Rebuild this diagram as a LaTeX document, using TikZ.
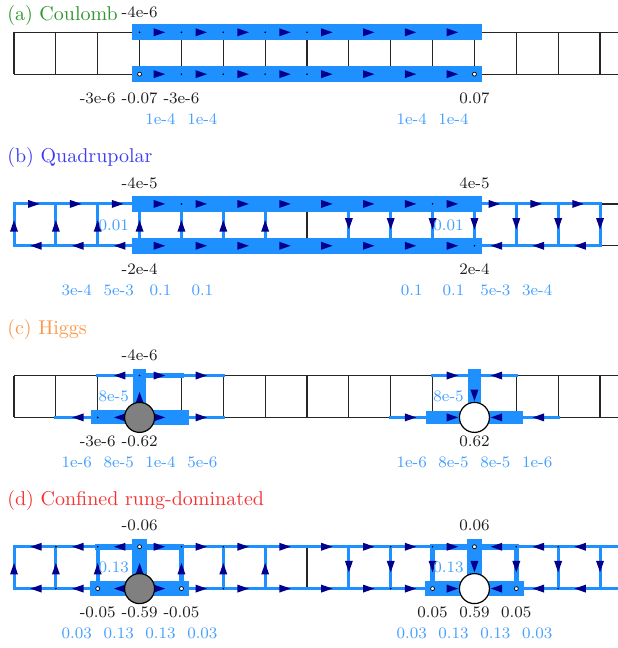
\documentclass[tikz,border=0pt]{standalone}
\usetikzlibrary{calc}
\definecolor{dblue}{RGB}{30,144,255}
\definecolor{navyc}{RGB}{0,0,140}
\definecolor{labb}{RGB}{70,160,255}
\definecolor{labk}{RGB}{30,30,30}
\definecolor{tA}{RGB}{45,150,45}
\definecolor{tB}{RGB}{60,60,245}
\definecolor{tC}{RGB}{255,150,70}
\definecolor{tD}{RGB}{245,50,50}
\newcommand\arw[3]{\pic[rotate=#3] at ($(#1)!.5!(#2)$) {tri};}
\begin{document}
\begin{tikzpicture}[x=20.93pt,y=-20.93pt,
 lat/.style={line width=0.6pt, draw=black!85},
 bl/.style={draw=dblue, line width=1.5pt, line cap=rect},
 md/.style={draw=dblue, line width=2.8pt, line cap=rect},
 bd/.style={draw=dblue, line width=8pt, line cap=rect},
 tri/.pic={\fill[navyc] (2.3pt,0) -- (-3.4pt,2pt) -- (-3.4pt,-2pt) -- cycle;},
 chg/.style={font=\footnotesize, text=labk, inner sep=1pt},
 cur/.style={font=\footnotesize, text=labb, inner sep=1pt},
 ring/.style={circle, draw=black, fill=white, line width=0.35pt, inner sep=0pt, minimum size=2pt},
 tdot/.style={circle, fill=black, inner sep=0pt, minimum size=0.9pt},
 site/.style={circle, draw=black, line width=0.6pt, inner sep=0pt, minimum size=15pt},
 ttl/.style={anchor=west, inner sep=0pt},
]
\useasboundingbox (-0.3345,-0.7716) rectangle (14.429,14.709);
\clip (-0.3345,-0.7716) rectangle (14.429,14.709);

% sites
\foreach \p/\o in {a/0,b/4.1,c/8.2,d/12.29}{
  \foreach \k in {0,...,14}{
    \coordinate (\p\k t) at (\k,\o);
    \coordinate (\p\k b) at (\k,\o+1);
  }
  \coordinate (\p Et) at (14.6,\o);
  \coordinate (\p Eb) at (14.6,\o+1);
}

% black ladders
\foreach \p in {a,b,c,d}{
  \draw[lat] (\p 0t) -- (\p Et);
  \draw[lat] (\p 0b) -- (\p Eb);
  \foreach \k in {0,...,14}{\draw[lat] (\p\k t) -- (\p\k b);}
}

% ---------------- (a) Coulomb
\draw[bd] (a3t) -- (a11t);
\draw[bd] (a3b) -- (a11b);
\foreach \k/\kk in {3/4,4/5,5/6,6/7,7/8,8/9,9/10,10/11}{\arw{a\k t}{a\kk t}{0}\arw{a\k b}{a\kk b}{0}}
\foreach \k in {3,...,7}{\node[tdot] (at\k) at (a\k t) {};}
\foreach \k in {4,...,7}{\node[tdot] (ab\k) at (a\k b) {};}
\node[ring] (ra1) at (a3b) {};
\node[ring] (ra2) at (a11b) {};
\node[ttl, text=tA] (ta) at (-0.17,-0.41) {(a) Coulomb};
\node[chg] (qa1) at (3,-0.48) {-4e-6};
\node[chg] (qa2) at (2,1.57) {-3e-6};
\node[chg] (qa3) at (3,1.57) {-0.07};
\node[chg] (qa4) at (4,1.57) {-3e-6};
\node[chg] (qa5) at (11,1.57) {0.07};
\node[cur] (ja1) at (3.5,2.07) {1e-4};
\node[cur] (ja2) at (4.5,2.07) {1e-4};
\node[cur] (ja3) at (9.5,2.07) {1e-4};
\node[cur] (ja4) at (10.5,2.07) {1e-4};

% ---------------- (b) Quadrupolar
\foreach \k/\kk in {0/1,1/2,2/3,11/12,12/13,13/14}{\draw[bl] (b\k t) -- (b\kk t); \draw[bl] (b\k b) -- (b\kk b);}
\foreach \k in {0,1,2,3,4,5,6,8,9,10,11,12,13,14}{\draw[bl] (b\k t) -- (b\k b);}
\draw[bd] (b3t) -- (b11t);
\draw[bd] (b3b) -- (b11b);
\foreach \k/\kk in {0/1,1/2,2/3}{\arw{b\k t}{b\kk t}{0}\arw{b\k b}{b\kk b}{180}}
\foreach \k/\kk in {3/4,4/5,5/6,6/7,7/8,8/9,9/10,10/11}{\arw{b\k t}{b\kk t}{0}\arw{b\k b}{b\kk b}{0}}
\foreach \k/\kk in {11/12,12/13,13/14}{\arw{b\k t}{b\kk t}{0}\arw{b\k b}{b\kk b}{180}}
\foreach \k in {0,...,6}{\arw{b\k b}{b\k t}{90}}
\foreach \k in {8,...,14}{\arw{b\k t}{b\k b}{-90}}
\node[tdot] (bd1) at (b4t) {};
\node[tdot] (bd2) at (b10t) {};
\node[tdot] (bd3) at (b11b) {};
\node[ttl, text=tB] (tb) at (-0.17,2.99) {(b) Quadrupolar};
\node[chg] (qb1) at (3,3.61) {-4e-5};
\node[chg] (qb2) at (11,3.61) {4e-5};
\node[chg] (qb3) at (3,5.65) {-2e-4};
\node[chg] (qb4) at (11,5.65) {2e-4};
\node[cur, anchor=east] (jb0) at (2.8,4.6) {0.01};
\node[cur, anchor=east] (jb9) at (10.8,4.6) {0.01};
\node[cur] (jb1) at (1.5,6.17) {3e-4};
\node[cur] (jb2) at (2.5,6.17) {5e-3};
\node[cur] (jb3) at (3.5,6.17) {0.1};
\node[cur] (jb4) at (4.5,6.17) {0.1};
\node[cur] (jb5) at (9.5,6.17) {0.1};
\node[cur] (jb6) at (10.5,6.17) {0.1};
\node[cur] (jb7) at (11.5,6.17) {5e-3};
\node[cur] (jb8) at (12.5,6.17) {3e-4};

% ---------------- (c) Higgs
\foreach \k/\kk in {2/3,4/5,10/11,11/12}{\draw[bl] (c\k t) -- (c\kk t);}
\foreach \k/\kk in {1/2,4/5,9/10,12/13}{\draw[bl] (c\k b) -- (c\kk b);}
\draw[md] (c3t) -- (c4t);
\draw[bd, line width=7pt] (c2b) -- (c3b);
\draw[bd, line width=7.5pt] (c3b) -- (c4b);
\draw[bd, line width=6.8pt] (c10b) -- (c12b);
\draw[bd, line width=6.7pt] (c3t) -- (c3b);
\draw[bd, line width=6.4pt] (c11t) -- (c11b);
\arw{c2t}{c3t}{180}\arw{c3t}{c4t}{0}\arw{c4t}{c5t}{0}
\arw{c1b}{c2b}{180}\arw{c2b}{c3b}{180}\arw{c3b}{c4b}{0}\arw{c4b}{c5b}{0}
\arw{c3b}{c3t}{90}
\arw{c10t}{c11t}{0}\arw{c11t}{c12t}{180}
\arw{c9b}{c10b}{0}\arw{c10b}{c11b}{0}\arw{c11b}{c12b}{180}\arw{c12b}{c13b}{180}
\arw{c11t}{c11b}{-90}
\node[tdot] (cd1) at (c3t) {};
\node[tdot] (cd2) at (c2b) {};
\node[site, fill=gray] (hg) at (c3b) {};
\node[site, fill=white] (hw) at (c11b) {};
\node[ttl, text=tC] (tc) at (-0.17,7.11) {(c) Higgs};
\node[chg] (qc1) at (3,7.71) {-4e-6};
\node[cur, anchor=east] (jc0) at (2.8,8.7) {8e-5};
\node[chg] (qc2) at (2,9.77) {-3e-6};
\node[chg] (qc3) at (3,9.77) {-0.62};
\node[cur] (jc1) at (1.5,10.27) {1e-6};
\node[cur] (jc2) at (2.5,10.27) {8e-5};
\node[cur] (jc3) at (3.5,10.27) {1e-4};
\node[cur] (jc4) at (4.5,10.27) {5e-6};
\node[cur, anchor=east] (jc9) at (10.8,8.7) {8e-5};
\node[chg] (qc4) at (11,9.77) {0.62};
\node[cur] (jc5) at (9.5,10.27) {1e-6};
\node[cur] (jc6) at (10.5,10.27) {8e-5};
\node[cur] (jc7) at (11.5,10.27) {8e-5};
\node[cur] (jc8) at (12.5,10.27) {1e-6};

% ---------------- (d) Confined rung-dominated
\draw[bl] (d0t) -- (dEt);
\draw[bl] (d0b) -- (dEb);
\foreach \k in {0,1,5,6,8,9,13,14}{\draw[bl] (d\k t) -- (d\k b);}
\foreach \k in {2,4,10,12}{\draw[bl, line width=2.2pt] (d\k t) -- (d\k b);}
\draw[md] (d2t) -- (d4t);
\draw[md] (d10t) -- (d12t);
\draw[bd, line width=7.5pt] (d3t) -- (d3b);
\draw[bd, line width=7.5pt] (d11t) -- (d11b);
\draw[bd, line width=7.8pt] (d2b) -- (d4b);
\draw[bd, line width=7.8pt] (d10b) -- (d12b);
\foreach \k/\kk in {0/1,1/2,2/3,11/12,12/13,13/14}{\arw{d\k t}{d\kk t}{180}\arw{d\k b}{d\kk b}{180}}
\foreach \k/\kk in {3/4,4/5,5/6,6/7,7/8,8/9,9/10,10/11}{\arw{d\k t}{d\kk t}{0}\arw{d\k b}{d\kk b}{0}}
\foreach \k in {0,...,6}{\arw{d\k b}{d\k t}{90}}
\foreach \k in {8,...,14}{\arw{d\k t}{d\k b}{-90}}
\foreach \k in {1,2,4,5,9,10,12,13}{\node[tdot] (dt\k) at (d\k t) {};}
\foreach \k in {1,5,9,13}{\node[tdot] (db\k) at (d\k b) {};}
\node[ring] (rd1) at (d3t) {};
\node[ring] (rd2) at (d2b) {};
\node[ring] (rd3) at (d4b) {};
\node[ring] (rd4) at (d11t) {};
\node[ring] (rd5) at (d10b) {};
\node[ring] (rd6) at (d12b) {};
\node[site, fill=gray] (dg) at (d3b) {};
\node[site, fill=white] (dw) at (d11b) {};
\node[ttl, text=tD] (td) at (-0.17,11.19) {(d) Confined rung-dominated};
\node[chg] (qd1) at (3,11.77) {-0.06};
\node[cur, anchor=east] (jd0) at (2.8,12.79) {0.13};
\node[chg] (qd2) at (2,13.86) {-0.05};
\node[chg] (qd3) at (3,13.86) {-0.59};
\node[chg] (qd4) at (4,13.86) {-0.05};
\node[cur] (jd1) at (1.5,14.36) {0.03};
\node[cur] (jd2) at (2.5,14.36) {0.13};
\node[cur] (jd3) at (3.5,14.36) {0.13};
\node[cur] (jd4) at (4.5,14.36) {0.03};
\node[chg] (qd5) at (11,11.77) {0.06};
\node[cur, anchor=east] (jd9) at (10.8,12.79) {0.13};
\node[chg] (qd6) at (10,13.86) {0.05};
\node[chg] (qd7) at (11,13.86) {0.59};
\node[chg] (qd8) at (12,13.86) {0.05};
\node[cur] (jd5) at (9.5,14.36) {0.03};
\node[cur] (jd6) at (10.5,14.36) {0.13};
\node[cur] (jd7) at (11.5,14.36) {0.13};
\node[cur] (jd8) at (12.5,14.36) {0.03};
\end{tikzpicture}
\end{document}
